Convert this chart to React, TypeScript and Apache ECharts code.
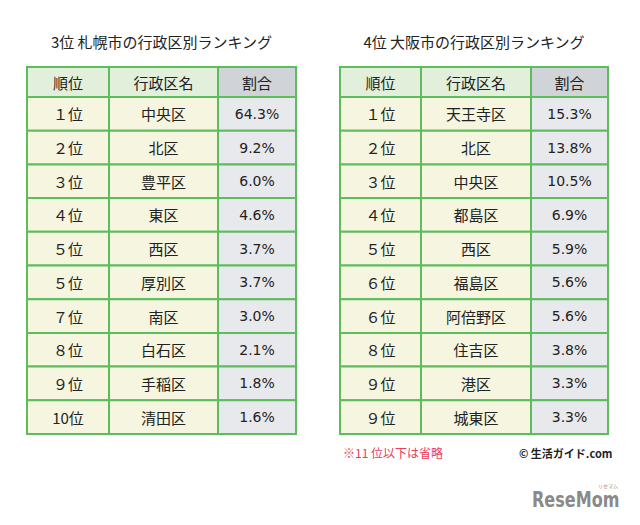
import React, { useEffect, useRef } from "react";
import * as echarts from "echarts";

const headers = ["順位", "行政区名", "割合"];

const sapporoTitle = "3位 札幌市の行政区別ランキング";
const sapporoRanks = ["１位", "２位", "３位", "４位", "５位", "５位", "７位", "８位", "９位", "10位"];
const sapporoWards = ["中央区", "北区", "豊平区", "東区", "西区", "厚別区", "南区", "白石区", "手稲区", "清田区"];
const sapporoShares = [64.3, 9.2, 6.0, 4.6, 3.7, 3.7, 3.0, 2.1, 1.8, 1.6];

const osakaTitle = "4位 大阪市の行政区別ランキング";
const osakaRanks = ["１位", "２位", "３位", "４位", "５位", "６位", "６位", "８位", "９位", "９位"];
const osakaWards = ["天王寺区", "北区", "中央区", "都島区", "西区", "福島区", "阿倍野区", "住吉区", "港区", "城東区"];
const osakaShares = [15.3, 13.8, 10.5, 6.9, 5.9, 5.6, 5.6, 3.8, 3.3, 3.3];

const footnote = "※11 位以下は省略";
const copyright = "© 生活ガイド.com";

const FONT = "'Noto Sans CJK JP', 'Noto Sans', sans-serif";
const BORDER = "#5dbd5d";
const HEAD_GREEN = "#e2efdb";
const HEAD_GRAY = "#d0d3d7";
const BODY_CREAM = "#f5f5e0";
const BODY_GRAY = "#e8e9ec";
const TEXT = "#222222";

function buildTable(
  x0: number,
  widths: number[],
  title: string,
  ranks: string[],
  wards: string[],
  shares: number[]
) {
  const els: any[] = [];
  const top = 67;
  const headH = 30;
  const rowH = 33.7;
  const totalW = widths.reduce((a, b) => a + b, 0);
  els.push({
    type: "text",
    x: x0 + totalW / 2,
    y: 41,
    style: { text: title, font: `normal 15px ${FONT}`, fill: TEXT, align: "center", verticalAlign: "middle" },
  });
  const colX: number[] = [];
  let acc = x0;
  widths.forEach((w) => {
    colX.push(acc);
    acc += w;
  });
  headers.forEach((h, c) => {
    els.push({
      type: "rect",
      shape: { x: colX[c], y: top, width: widths[c], height: headH },
      style: { fill: c === 2 ? HEAD_GRAY : HEAD_GREEN, stroke: BORDER, lineWidth: 2 },
    });
    els.push({
      type: "text",
      x: colX[c] + widths[c] / 2,
      y: top + headH / 2,
      style: { text: h, font: `normal 15px ${FONT}`, fill: TEXT, align: "center", verticalAlign: "middle" },
    });
  });
  ranks.forEach((r, i) => {
    const y = top + headH + i * rowH;
    const cells = [r, wards[i], shares[i].toFixed(1) + "%"];
    cells.forEach((t, c) => {
      els.push({
        type: "rect",
        shape: { x: colX[c], y, width: widths[c], height: rowH },
        style: { fill: c === 2 ? BODY_GRAY : BODY_CREAM, stroke: BORDER, lineWidth: 2 },
      });
      els.push({
        type: "text",
        x: colX[c] + widths[c] / 2,
        y: y + rowH / 2,
        style: {
          text: t,
          font: c === 2 ? `normal 14px 'DejaVu Sans', sans-serif` : `normal 15px ${FONT}`,
          fill: TEXT,
          align: "center",
          verticalAlign: "middle",
        },
      });
    });
  });
  return els;
}

export default function App() {
  const ref = useRef<HTMLDivElement>(null);
  useEffect(() => {
    if (!ref.current) return;
    const chart = echarts.init(ref.current, undefined, { renderer: "svg" });
    const graphic: any[] = [
      ...buildTable(27, [82, 109, 78], sapporoTitle, sapporoRanks, sapporoWards, sapporoShares),
      ...buildTable(340, [81, 110, 77], osakaTitle, osakaRanks, osakaWards, osakaShares),
      {
        type: "text",
        x: 343,
        y: 452,
        style: { text: footnote, font: `normal 12px ${FONT}`, fill: "#e8405a", align: "left", verticalAlign: "middle" },
      },
      {
        type: "text",
        x: 519,
        y: 453,
        style: { text: copyright, font: `bold 11px ${FONT}`, fill: "#222", align: "left", verticalAlign: "middle" },
      },
      {
        type: "text",
        x: 532,
        y: 500,
        scaleX: 0.85,
        style: {
          text: "ReseMom",
          font: `bold 21px 'DejaVu Sans Condensed', 'DejaVu Sans', sans-serif`,
          fill: "#8a8a8a",
          align: "left",
          verticalAlign: "middle",
        },
      },
      {
        type: "text",
        x: 608,
        y: 485,
        style: { text: "リセマム", font: `normal 5px ${FONT}`, fill: "#8a8a8a", align: "center", verticalAlign: "middle" },
      },
    ];
    chart.setOption({ animation: false, graphic });
    return () => chart.dispose();
  }, []);
  return (
    <div
      ref={ref}
      style={{ position: "fixed", left: 0, top: 0, width: 640, height: 525, background: "#fff" }}
    />
  );
}
